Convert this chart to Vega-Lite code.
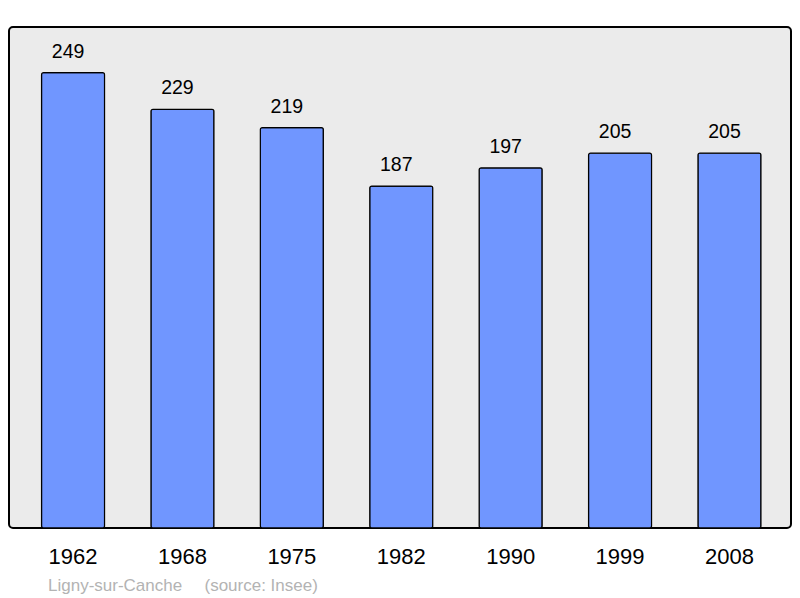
{
  "$schema": "https://vega.github.io/schema/vega-lite/v6.json",
  "width": 782,
  "height": 501,
  "autosize": {"type": "none"},
  "padding": {"left": 9, "top": 27, "right": 9, "bottom": 70},
  "background": "white",
  "config": {
    "font": "Liberation Sans",
    "view": {"fill": "#ebebeb", "stroke": "black", "strokeWidth": 2, "cornerRadius": 4}
  },
  "title": {
    "text": "Ligny-sur-Canche\u00a0\u00a0\u00a0\u00a0\u2009(source: Insee)",
    "orient": "bottom",
    "anchor": "start",
    "frame": "group",
    "dx": 39,
    "offset": 11,
    "fontSize": 17,
    "fontWeight": "normal",
    "color": "#b3b3b3"
  },
  "data": {
    "values": [
      {"year": "1962", "pop": 249},
      {"year": "1968", "pop": 229},
      {"year": "1975", "pop": 219},
      {"year": "1982", "pop": 187},
      {"year": "1990", "pop": 197},
      {"year": "1999", "pop": 205},
      {"year": "2008", "pop": 205}
    ]
  },
  "encoding": {
    "x": {
      "field": "year",
      "type": "nominal",
      "sort": null,
      "scale": {"paddingInner": 0.424, "paddingOuter": 0.286, "align": 0.52},
      "axis": {
        "title": null,
        "domain": false,
        "ticks": false,
        "labelAngle": 0,
        "labelFontSize": 22,
        "labelColor": "black",
        "labelPadding": 18
      }
    },
    "y": {
      "field": "pop",
      "type": "quantitative",
      "scale": {"domain": [0, 274], "nice": false},
      "axis": null
    }
  },
  "layer": [
    {
      "mark": {"type": "bar", "fill": "#7096ff", "stroke": "black", "strokeWidth": 1.2, "cornerRadius": 2}
    },
    {
      "mark": {"type": "text", "baseline": "alphabetic", "dy": -15, "dx": -5, "fontSize": 19.5, "color": "black"},
      "encoding": {"text": {"field": "pop", "type": "quantitative"}}
    }
  ]
}
